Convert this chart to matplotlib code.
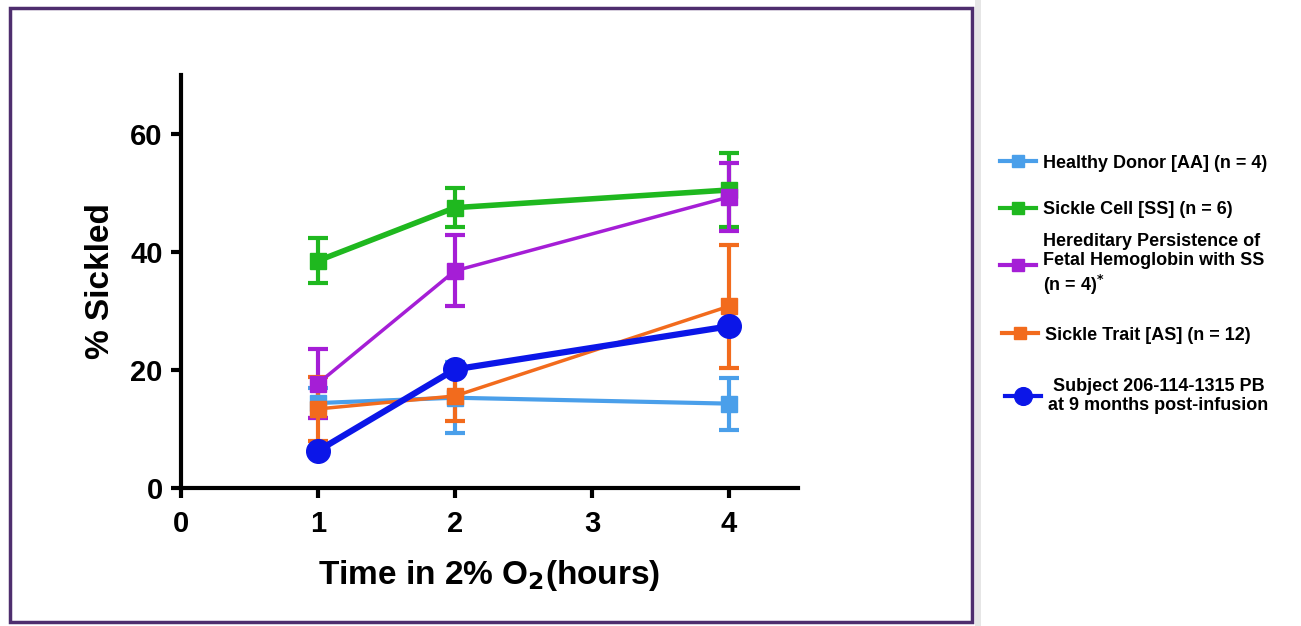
import matplotlib.pyplot as plt
from matplotlib.patches import Rectangle

plt.rcParams['font.family'] = ['Liberation Sans', 'DejaVu Sans']
plt.rcParams['font.weight'] = 'bold'

# ==============================================
# Data
# ==============================================
hours = [1, 2, 4]

healthy = [14.4, 15.3, 14.3]
healthy_err = [2.5, 6.0, 4.4]

sickle_cell = [38.5, 47.5, 50.5]
sickle_cell_err = [3.8, 3.3, 6.2]

hpfh = [17.7, 36.8, 49.3]
hpfh_err = [5.8, 6.0, 5.7]

trait = [13.4, 15.6, 30.8]
trait_err = [5.4, 4.3, 10.4]

subject = [6.3, 20.1, 27.4]

labels = ['Healthy Donor [AA] (n = 4)',
          'Sickle Cell [SS] (n = 6)',
          'Hereditary Persistence of\nFetal Hemoglobin with SS\n(n = 4)$^{*}$',
          'Sickle Trait [AS] (n = 12)',
          'Subject 206-114-1315 PB\nat 9 months post-infusion']

colors = ['#4A9FEA', '#1FB81F', '#A51ED6', '#F26B1D', '#0B16E8']

# ==============================================
# Figure
# ==============================================
fig = plt.figure(figsize=(13.01, 6.26), dpi=100)
ax = fig.add_axes([0.139, 0.2204, 0.474, 0.66])

# frame around the plot panel
fig.patches.append(Rectangle((10 / 1301, 4 / 626), 962 / 1301, 614 / 626,
                             transform=fig.transFigure, fill=False,
                             edgecolor='#4E2E6E', linewidth=2.5))
fig.patches.append(Rectangle((975 / 1301, 0), 6 / 1301, 1, transform=fig.transFigure,
                             facecolor='#e6e6e6', edgecolor='none'))

series = [(healthy, healthy_err, 3.0), (sickle_cell, sickle_cell_err, 4.0),
          (hpfh, hpfh_err, 2.5), (trait, trait_err, 2.5)]
handles = []
for (vals, err, lw), c in zip(series, colors):
    h = ax.errorbar(hours, vals, yerr=err, color=c, marker='s', markersize=12,
                    linewidth=lw, elinewidth=3, capsize=7, capthick=3)
    handles.append(h.lines[0])

h = ax.plot(hours, subject, color=colors[4], marker='o', markersize=17,
            linewidth=4.5, zorder=5)[0]
handles.append(h)

ax.set_xlim(0, 4.5)
ax.set_ylim(0, 70)
ax.set_xticks([0, 1, 2, 3, 4])
ax.set_yticks([0, 20, 40, 60])
ax.spines['top'].set_visible(False)
ax.spines['right'].set_visible(False)
for s in ['left', 'bottom']:
    ax.spines[s].set_linewidth(3)
ax.tick_params(width=3, length=7, labelsize=21)
ax.tick_params(axis='x', pad=9)
ax.tick_params(axis='y', pad=6)
for t in ax.get_xticklabels() + ax.get_yticklabels():
    t.set_fontweight('bold')

ax.set_ylabel('% Sickled', fontsize=24, fontweight='bold', labelpad=10)
ax.set_xlabel('Time in 2% O$_\\mathbf{2}$(hours)', fontsize=24, fontweight='bold',
              labelpad=14)

# legend entries placed one by one, as in the original
legend_y = [163, 210, 265, 335, 396]
legend_x = [1000, 1000, 1000, 1002, 1005]
for i, (hd, lab, yp, xp) in enumerate(zip(handles, labels, legend_y, legend_x)):
    lg = fig.legend([hd], [lab], loc='center left',
                    bbox_to_anchor=(xp / 1301, 1 - yp / 626),
                    frameon=False, fontsize=13, handlelength=2.0,
                    handletextpad=0.4, markerscale=0.75, borderpad=0,
                    borderaxespad=0)
    for ln in lg.get_lines():
        ln.set_linewidth(3)
    if i == 4:
        for t in lg.get_texts():
            t.set_multialignment('center')

fig.savefig('out.png', dpi=100)
